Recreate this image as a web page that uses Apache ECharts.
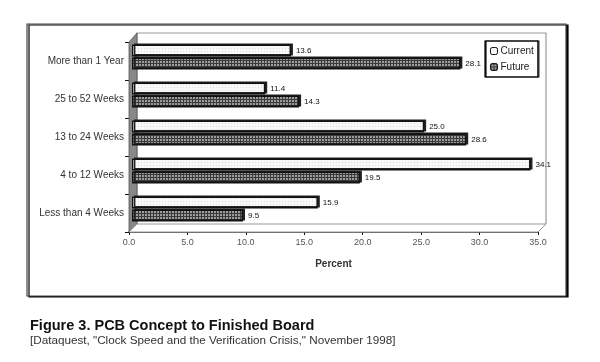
<!DOCTYPE html>
<html><head><meta charset="utf-8">
<script src="https://cdn.jsdelivr.net/npm/echarts@6/dist/echarts.min.js"></script>
<style>html,body{margin:0;padding:0;background:#fff}#c{width:600px;height:362px}</style>
</head><body><div id="c"></div>
<script>
const categories = ['More than 1 Year', '25 to 52 Weeks', '13 to 24 Weeks', '4 to 12 Weeks', 'Less than 4 Weeks'];
const currentValues = [13.6, 11.4, 25.0, 34.1, 15.9];
const futureValues = [28.1, 14.3, 28.6, 19.5, 9.5];
const xTicks = [0, 5, 10, 15, 20, 25, 30, 35];

function pattern(base, ink, kind) {
  const c = document.createElement('canvas');
  c.width = 3; c.height = 3;
  const g = c.getContext('2d');
  g.fillStyle = base; g.fillRect(0, 0, 3, 3);
  g.fillStyle = ink;
  if (kind === 'dots') { g.fillRect(0, 0, 1, 1); }
  else { g.fillRect(0, 0, 3, 1); g.fillRect(0, 0, 1, 3); }
  return { image: c, repeat: 'repeat' };
}
const curFill = pattern('#f8f8f8', '#dcdcdc', 'dots');
const futFill = pattern('#9c9c9c', '#3a3a3a', 'grid');

const G = { left: 129, right: 62, top: 42, bottom: 130 };
const W = 600, H = 362;
const gx0 = G.left, gx1 = W - G.right, gy0 = G.top, gy1 = H - G.bottom;
const D = 8;
// bars sit at mid-depth of the 3D box: same scale, shifted grid
const G2 = { left: G.left + 3, right: G.right - 3, top: G.top - 4, bottom: G.bottom + 4 };

const chart = echarts.init(document.getElementById('c'), null, { renderer: 'canvas' });
const lbl = { show: true, position: 'right', distance: 5, fontSize: 8, color: '#111',
  fontFamily: 'Liberation Sans', formatter: p => p.value.toFixed(1) };
const barStyle = (fill) => ({ color: fill, borderColor: '#111', borderWidth: 1.4,
  shadowColor: '#222', shadowOffsetX: 2, shadowOffsetY: -1, shadowBlur: 0 });

chart.setOption({
  animation: false,
  textStyle: { fontFamily: 'Liberation Sans' },
  graphic: [
    { type: 'rect', shape: { x: 27, y: 24, width: 539, height: 272 },
      style: { fill: '#fff', stroke: '#444', lineWidth: 1.2, shadowColor: '#000', shadowOffsetX: 2, shadowOffsetY: 1, shadowBlur: 0 }, z: -10 },
    { type: 'polyline', shape: { points: [[gx0 + D, gy1 - D], [gx0 + D, gy0 - 9], [gx1 + D, gy0 - 9], [gx1 + D, gy1 - D]] },
      style: { stroke: '#999', lineWidth: 1.2, fill: null }, z: 1 },
    { type: 'polygon', shape: { points: [[gx0, gy0], [gx0 + D, gy0 - 9], [gx0 + D, gy1 - D], [gx0, gy1]] },
      style: { fill: '#888', stroke: '#555', lineWidth: 0.8 }, z: 1 },
    { type: 'polygon', shape: { points: [[gx0, gy1], [gx0 + D, gy1 - D], [gx1 + D, gy1 - D], [gx1, gy1]] },
      style: { fill: '#fff', stroke: '#999', lineWidth: 1 }, z: 1 },
    { type: 'text', left: 30, top: 318, style: { text: 'Figure 3. PCB Concept to Finished Board', font: 'bold 14.5px Liberation Sans', fill: '#111' } },
    { type: 'text', left: 30, top: 335, style: { text: '[Dataquest, "Clock Speed and the Verification Crisis," November 1998]', font: '11.7px Liberation Sans', fill: '#333' } }
  ],
  legend: {
    orient: 'vertical', left: 486, top: 41, itemWidth: 7, itemHeight: 7, itemGap: 6,
    padding: [5, 5, 5, 4], borderColor: '#111', borderWidth: 1.2, backgroundColor: '#fff',
    shadowColor: '#000', shadowOffsetX: -1, shadowOffsetY: 0, shadowBlur: 0,
    textStyle: { fontSize: 10, color: '#222', padding: [0, 0, 0, -2] },
    itemStyle: { borderColor: '#111', borderWidth: 1 },
    data: ['Current', 'Future']
  },
  grid: [G, G2],
  xAxis: [{
    type: 'value', min: 0, max: 35, interval: 5, gridIndex: 0,
    name: 'Percent', nameLocation: 'middle', nameGap: 27,
    nameTextStyle: { fontSize: 10, fontWeight: 'bold', color: '#333' },
    axisLine: { show: true, lineStyle: { color: '#111', width: 1.5 } },
    axisTick: { show: true, length: 3, lineStyle: { color: '#111' } },
    axisLabel: { fontSize: 9, color: '#555', margin: 6, formatter: v => xTicks.includes(v) ? v.toFixed(1) : '' },
    splitLine: { show: false }
  }, {
    type: 'value', min: 0, max: 35, interval: 5, gridIndex: 1, show: false
  }],
  yAxis: [{
    type: 'category', inverse: true, data: categories, gridIndex: 0,
    axisLine: { show: false },
    axisTick: { show: true, length: 4, lineStyle: { color: '#111' } },
    axisLabel: { fontSize: 10, color: '#333', margin: 5 }
  }, {
    type: 'category', inverse: true, data: categories, gridIndex: 1, show: false
  }],
  series: [
    { name: 'Current', type: 'bar', data: currentValues, barWidth: 12, barGap: '8%', z: 5,
      xAxisIndex: 1, yAxisIndex: 1, itemStyle: barStyle(curFill), label: lbl },
    { name: 'Future', type: 'bar', data: futureValues, barWidth: 12, z: 5,
      xAxisIndex: 1, yAxisIndex: 1, itemStyle: barStyle(futFill), label: lbl }
  ]
});
</script></body></html>
